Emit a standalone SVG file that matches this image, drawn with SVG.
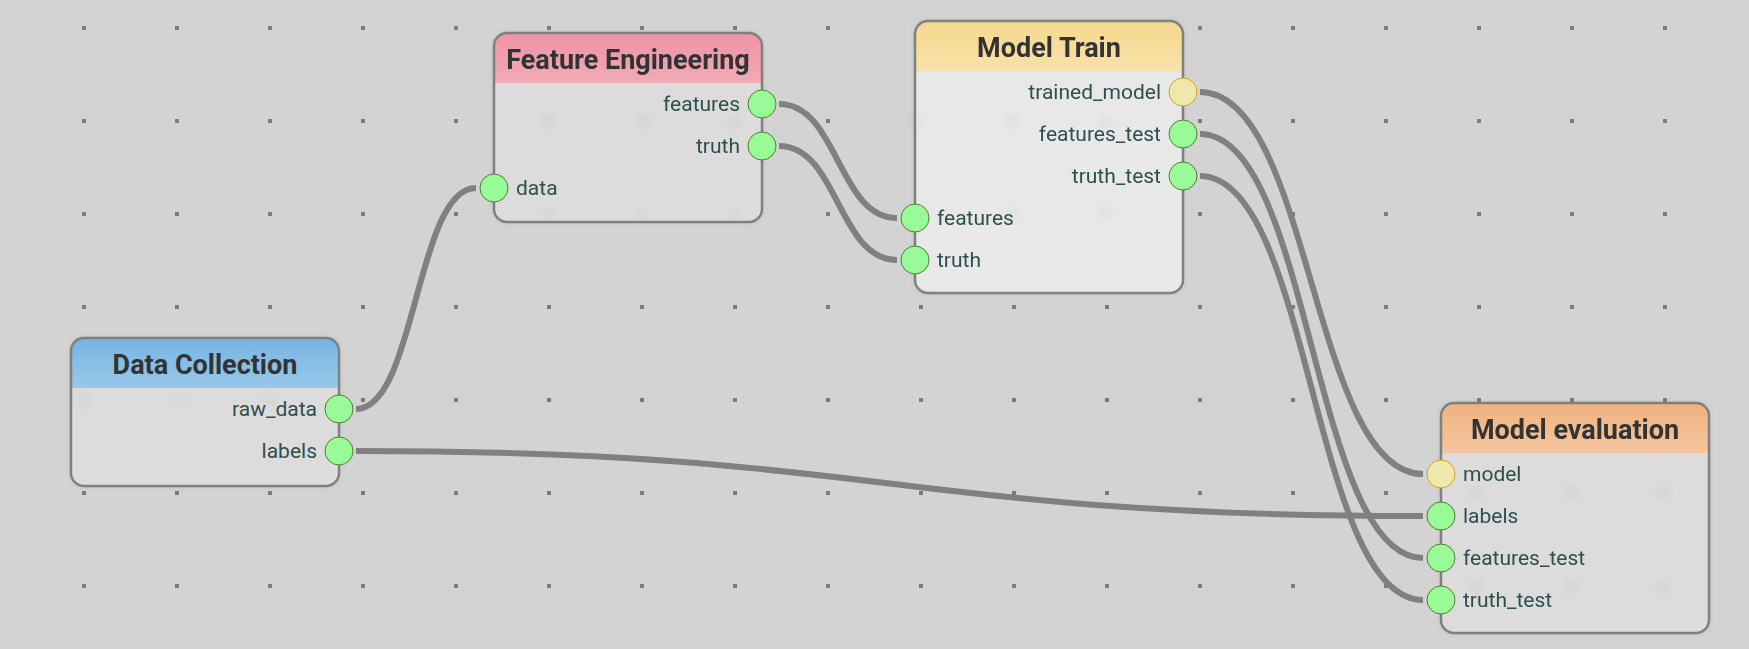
<svg xmlns="http://www.w3.org/2000/svg" width="1749" height="649" viewBox="0 0 1749 649">
<defs>
<style>
.bg{fill:#d3d3d3}
.dot{fill:#7c7c7c}
.link{fill:none;stroke:#808080;stroke-width:6}
.frame{fill:none;stroke:#808080;stroke-width:2.5}
.title{font-family:Roboto,"Liberation Sans",sans-serif;font-weight:bold;font-size:27px;fill:#333;text-anchor:middle}
.lbl{font-family:Roboto,"Liberation Sans",sans-serif;font-size:21px;fill:#2f4f4f}
.r{text-anchor:end}
.pg{fill:#98fb98;stroke:#557a2e;stroke-width:1}
.py{fill:#eee8aa;stroke:#d4a020;stroke-width:1}
.ghost{fill:#000;opacity:0.025}
</style>
<linearGradient id="gBlue" x1="0" y1="0" x2="0" y2="1"><stop offset="0" stop-color="#76b4e1"/><stop offset="1" stop-color="#98c8eb"/></linearGradient>
<linearGradient id="gPink" x1="0" y1="0" x2="0" y2="1"><stop offset="0" stop-color="#ee92a5"/><stop offset="1" stop-color="#f2aab7"/></linearGradient>
<linearGradient id="gYellow" x1="0" y1="0" x2="0" y2="1"><stop offset="0" stop-color="#f5d88e"/><stop offset="1" stop-color="#f8e1a9"/></linearGradient>
<linearGradient id="gOrange" x1="0" y1="0" x2="0" y2="1"><stop offset="0" stop-color="#f0b17e"/><stop offset="1" stop-color="#f4c6a0"/></linearGradient>
<filter id="shadow" x="-10%" y="-10%" width="120%" height="120%"><feDropShadow dx="0" dy="0" stdDeviation="3" flood-color="#000" flood-opacity="0.12"/></filter>
<filter id="blur" x="-100%" y="-100%" width="300%" height="300%"><feGaussianBlur stdDeviation="3"/></filter>
</defs>
<rect class="bg" x="0" y="0" width="1749" height="649"/>
<g id="grid">
<g id="row28">
<rect class="dot" x="82" y="26" width="4" height="4"/><rect class="dot" x="175" y="26" width="4" height="4"/><rect class="dot" x="268" y="26" width="4" height="4"/><rect class="dot" x="361" y="26" width="4" height="4"/><rect class="dot" x="454" y="26" width="4" height="4"/><rect class="dot" x="547" y="26" width="4" height="4"/><rect class="dot" x="640" y="26" width="4" height="4"/><rect class="dot" x="733" y="26" width="4" height="4"/><rect class="dot" x="826" y="26" width="4" height="4"/><rect class="dot" x="919" y="26" width="4" height="4"/><rect class="dot" x="1012" y="26" width="4" height="4"/><rect class="dot" x="1105" y="26" width="4" height="4"/><rect class="dot" x="1198" y="26" width="4" height="4"/><rect class="dot" x="1291" y="26" width="4" height="4"/><rect class="dot" x="1384" y="26" width="4" height="4"/><rect class="dot" x="1477" y="26" width="4" height="4"/><rect class="dot" x="1570" y="26" width="4" height="4"/><rect class="dot" x="1663" y="26" width="4" height="4"/>
</g>
<use href="#row28" y="93"/>
<use href="#row28" y="186"/>
<use href="#row28" y="279"/>
<use href="#row28" y="372"/>
<use href="#row28" y="465"/>
<use href="#row28" y="558"/>
</g>
<g id="connectors">
<path class="link" d="M356,409 C416,409 416,188 476,188"/>
<path class="link" d="M356,451 C889,451 890,516 1423,516"/>
<path class="link" d="M779,104 C838,104 838,218 897,218"/>
<path class="link" d="M779,146 C838,146 838,260 897,260"/>
<path class="link" d="M1200,92 C1311,92 1312,474 1423,474"/>
<path class="link" d="M1200,134 C1311,134 1312,558 1423,558"/>
<path class="link" d="M1200,176 C1311,176 1312,600 1423,600"/>
</g>
<g id="node-data-collection">
<rect x="71" y="338" width="268" height="148" rx="13" fill="#dcdcdc" filter="url(#shadow)"/>
<g filter="url(#blur)"><circle class="ghost" cx="84" cy="400" r="8"/><circle class="ghost" cx="177" cy="400" r="8"/><circle class="ghost" cx="270" cy="400" r="8"/></g>
<path d="M71,388 V351 A13,13 0 0 1 84,338 H326 A13,13 0 0 1 339,351 V388 Z" fill="url(#gBlue)"/>
<rect class="frame" x="71" y="338" width="268" height="148" rx="13"/>
<text class="title" x="205" y="374">Data Collection</text>
<text class="lbl r" x="317" y="416">raw_data</text>
<text class="lbl r" x="317" y="458">labels</text>
<circle class="pg" cx="339" cy="409" r="14"/>
<circle class="pg" cx="339" cy="451" r="14"/>
</g>
<g id="node-feature-engineering">
<rect x="494" y="33" width="268" height="189" rx="13" fill="#dcdcdc" filter="url(#shadow)"/>
<g filter="url(#blur)"><circle class="ghost" cx="549" cy="121" r="8"/><circle class="ghost" cx="642" cy="121" r="8"/><circle class="ghost" cx="735" cy="121" r="8"/><circle class="ghost" cx="549" cy="214" r="6"/><circle class="ghost" cx="642" cy="214" r="6"/><circle class="ghost" cx="735" cy="214" r="6"/></g>
<path d="M494,83 V46 A13,13 0 0 1 507,33 H749 A13,13 0 0 1 762,46 V83 Z" fill="url(#gPink)"/>
<rect class="frame" x="494" y="33" width="268" height="189" rx="13"/>
<text class="title" x="628" y="69">Feature Engineering</text>
<text class="lbl r" x="740" y="111">features</text>
<text class="lbl r" x="740" y="153">truth</text>
<text class="lbl" x="516" y="195">data</text>
<circle class="pg" cx="762" cy="104" r="14"/>
<circle class="pg" cx="762" cy="146" r="14"/>
<circle class="pg" cx="494" cy="188" r="14"/>
</g>
<g id="node-model-train">
<rect x="915" y="21" width="268" height="272" rx="13" fill="#e8e8e8" filter="url(#shadow)"/>
<g filter="url(#blur)"><circle class="ghost" cx="919" cy="121" r="6"/><circle class="ghost" cx="1012" cy="121" r="8"/><circle class="ghost" cx="1105" cy="121" r="8"/><circle class="ghost" cx="1012" cy="214" r="8"/><circle class="ghost" cx="1105" cy="214" r="8"/></g>
<path d="M915,71 V34 A13,13 0 0 1 928,21 H1170 A13,13 0 0 1 1183,34 V71 Z" fill="url(#gYellow)"/>
<rect class="frame" x="915" y="21" width="268" height="272" rx="13"/>
<text class="title" x="1049" y="57">Model Train</text>
<text class="lbl r" x="1161" y="99">trained_model</text>
<text class="lbl r" x="1161" y="141">features_test</text>
<text class="lbl r" x="1161" y="183">truth_test</text>
<text class="lbl" x="937" y="225">features</text>
<text class="lbl" x="937" y="267">truth</text>
<circle class="py" cx="1183" cy="92" r="14"/>
<circle class="pg" cx="1183" cy="134" r="14"/>
<circle class="pg" cx="1183" cy="176" r="14"/>
<circle class="pg" cx="915" cy="218" r="14"/>
<circle class="pg" cx="915" cy="260" r="14"/>
</g>
<g id="node-model-evaluation">
<rect x="1441" y="403" width="268" height="230" rx="13" fill="#dcdcdc" filter="url(#shadow)"/>
<g filter="url(#blur)"><circle class="ghost" cx="1477" cy="493" r="8"/><circle class="ghost" cx="1570" cy="493" r="8"/><circle class="ghost" cx="1663" cy="493" r="8"/><circle class="ghost" cx="1477" cy="586" r="8"/><circle class="ghost" cx="1570" cy="586" r="8"/><circle class="ghost" cx="1663" cy="586" r="8"/></g>
<path d="M1441,453 V416 A13,13 0 0 1 1454,403 H1696 A13,13 0 0 1 1709,416 V453 Z" fill="url(#gOrange)"/>
<rect class="frame" x="1441" y="403" width="268" height="230" rx="13"/>
<text class="title" x="1575" y="439">Model evaluation</text>
<text class="lbl" x="1463" y="481">model</text>
<text class="lbl" x="1463" y="523">labels</text>
<text class="lbl" x="1463" y="565">features_test</text>
<text class="lbl" x="1463" y="607">truth_test</text>
<circle class="py" cx="1441" cy="474" r="14"/>
<circle class="pg" cx="1441" cy="516" r="14"/>
<circle class="pg" cx="1441" cy="558" r="14"/>
<circle class="pg" cx="1441" cy="600" r="14"/>
</g>
</svg>
